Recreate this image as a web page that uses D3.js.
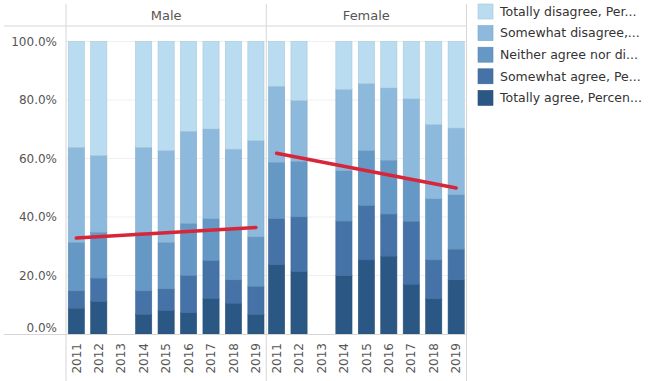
<!DOCTYPE html>
<html><head><meta charset="utf-8">
<script src="https://cdn.jsdelivr.net/npm/d3@7"></script>
<style>
html,body{margin:0;padding:0;background:#fff;}
svg{display:block;font-family:"DejaVu Sans",sans-serif;}
</style></head>
<body><svg id="c" width="650" height="381"></svg>
<script>
const years = ["2011","2012","2013","2014","2015","2016","2017","2018","2019"];
const genders = ["Male","Female"];
// stack order: bottom to top
const categories = ["Totally agree","Somewhat agree","Neither agree nor disagree","Somewhat disagree","Totally disagree"];
const legendLabels = ["Totally disagree, Per...","Somewhat disagree,...","Neither agree nor di...","Somewhat agree, Pe...","Totally agree, Percen..."];
const colors = ["#2a5783","#4572a7","#6598c5","#8cb9dc","#b9dcf0"];

const maleTotallyAgree      = [8.8, 11.1, null, 6.7, 8.0, 7.2, 12.1, 10.5, 6.6];
const maleSomewhatAgree     = [5.9, 8.0, null, 8.0, 7.4, 12.8, 13.0, 8.0, 9.7];
const maleNeither           = [16.6, 15.7, null, 20.0, 15.9, 17.8, 14.3, 17.4, 16.9];
const maleSomewhatDisagree  = [32.5, 26.2, null, 29.1, 31.4, 31.5, 30.7, 27.3, 32.9];
const maleTotallyDisagree   = [36.2, 39.0, null, 36.2, 37.3, 30.7, 29.9, 36.8, 33.9];

const femaleTotallyAgree     = [23.6, 21.3, null, 19.9, 25.3, 26.6, 17.0, 12.0, 18.5];
const femaleSomewhatAgree    = [15.8, 18.7, null, 18.7, 18.6, 14.4, 21.5, 13.3, 10.5];
const femaleNeither          = [19.3, 19.0, null, 17.2, 18.8, 18.4, 14.5, 20.9, 18.6];
const femaleSomewhatDisagree = [26.0, 20.8, null, 27.8, 22.9, 24.7, 27.4, 25.4, 22.8];
const femaleTotallyDisagree  = [15.3, 20.2, null, 16.4, 14.4, 15.9, 19.6, 28.4, 29.6];

const trendYears = ["2011","2019"];
const trendMale = [32.8, 36.4];
const trendFemale = [61.8, 49.9];

const yTicks = [0,20,40,60,80,100];

const series = {
  Male: [maleTotallyAgree, maleSomewhatAgree, maleNeither, maleSomewhatDisagree, maleTotallyDisagree],
  Female: [femaleTotallyAgree, femaleSomewhatAgree, femaleNeither, femaleSomewhatDisagree, femaleTotallyDisagree]
};
const trends = {Male: trendMale, Female: trendFemale};

const svg = d3.select("#c");
const mLeft = 66, mRight = 466.5, mTop = 4, headerBottom = 26, yBase = 334, yFull = 41.5;
const panelScale = d3.scaleBand().domain(genders).range([mLeft, mRight]);
const y = d3.scaleLinear().domain([0,100]).range([yBase, yFull]);
const textColor = "#555";

// gridlines
svg.append("g").selectAll("line").data(yTicks.filter(t=>t>0)).join("line")
  .attr("x1", mLeft).attr("x2", mRight).attr("y1", d=>y(d)).attr("y2", d=>y(d))
  .attr("stroke", "#efefef").attr("stroke-width", 1);

// y axis labels
const yAxis = d3.axisLeft(y).tickValues(yTicks).tickFormat(d=>d3.format(".1f")(d)+"%").tickSize(0).tickPadding(9);
const ya = svg.append("g").attr("transform", `translate(${mLeft},0)`).call(yAxis);
ya.select(".domain").remove();
ya.selectAll("text").attr("font-size", 12).attr("fill", textColor).attr("font-family","DejaVu Sans")
  .attr("dy", d => d === 0 ? "-0.25em" : "0.32em");

genders.forEach(g => {
  const x0 = panelScale(g), x1 = x0 + panelScale.bandwidth();
  const x = d3.scaleBand().domain(years).range([x0, x1]).paddingInner(0.28).paddingOuter(0.1);
  const rows = years.map((yr, i) => {
    const o = {year: yr};
    categories.forEach((c, k) => o[c] = series[g][k][i]);
    return o;
  }).filter(r => r[categories[0]] != null);
  const stack = d3.stack().keys(categories)(rows);
  const gg = svg.append("g");
  stack.forEach((layer, k) => {
    gg.append("g").selectAll("rect").data(layer).join("rect")
      .attr("x", d => x(d.data.year))
      .attr("width", x.bandwidth())
      .attr("y", d => y(d[1]))
      .attr("height", d => y(d[0]) - y(d[1]))
      .attr("fill", colors[k])
      .attr("stroke", d3.color(colors[k]).darker(0.25))
      .attr("stroke-width", 0.6);
  });
  // trend line
  const line = d3.line().x((d,i) => x(trendYears[i]) + x.bandwidth()/2).y(d => y(d));
  svg.append("path").datum(trends[g]).attr("d", line)
    .attr("fill","none").attr("stroke","#d7263a").attr("stroke-width",3.5).attr("stroke-linecap","round");
  // header
  svg.append("text").attr("x", (x0+x1)/2).attr("y", 15).attr("dy","0.35em")
    .attr("text-anchor","middle").attr("font-size",13).attr("fill",textColor).text(g);
  // x axis
  const xa = svg.append("g").attr("transform", `translate(0,${yBase})`)
    .call(d3.axisBottom(x).tickSize(0).tickPadding(0));
  xa.select(".domain").remove();
  xa.selectAll("text").attr("font-size",12).attr("fill",textColor).attr("font-family","DejaVu Sans")
    .attr("transform","rotate(-90)").attr("text-anchor","end")
    .attr("x",-9).attr("y",0).attr("dy","0.35em");
});

// frame lines
const lc = "#d6d6d6";
[mLeft, panelScale("Female"), mRight].forEach(xv => {
  svg.append("line").attr("x1",xv).attr("x2",xv).attr("y1",mTop).attr("y2",381).attr("stroke",lc);
});
svg.append("line").attr("x1",4).attr("x2",mRight).attr("y1",headerBottom).attr("y2",headerBottom).attr("stroke",lc);
svg.append("line").attr("x1",4).attr("x2",mRight).attr("y1",yBase+0.5).attr("y2",yBase+0.5).attr("stroke",lc);

// legend
const lg = svg.append("g").attr("transform","translate(478,4)");
const items = legendLabels.map((t,i)=>({t, c: colors[colors.length-1-i]}));
const row = lg.selectAll("g").data(items).join("g").attr("transform",(d,i)=>`translate(0,${i*21.6})`);
row.append("rect").attr("width",15).attr("height",15).attr("fill",d=>d.c)
  .attr("stroke",d=>d3.color(d.c).darker(0.3)).attr("stroke-width",0.6);
row.append("text").attr("x",22).attr("y",7.5).attr("dy","0.35em").attr("font-size",12.5).attr("fill","#333").text(d=>d.t);
</script></body></html>
